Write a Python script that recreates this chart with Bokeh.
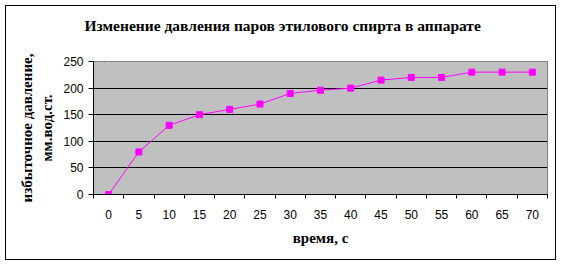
from bokeh.plotting import figure
from bokeh.models import FixedTicker, Range1d, Title, LinearAxis
from bokeh.embed import file_html
from bokeh.resources import INLINE

times = [0, 5, 10, 15, 20, 25, 30, 35, 40, 45, 50, 55, 60, 65, 70]
pressure = [0, 80, 130, 150, 160, 170, 190, 196, 200, 215, 220, 220, 230, 230, 230]
y_ticks = [0, 50, 100, 150, 200, 250]
title_text = "Изменение давления паров этилового спирта в аппарате"
x_label = "время, с"
y_label = "избыточное давление,\nмм.вод.ст."

step = 5
p = figure(width=551, height=255, output_backend="svg", toolbar_location=None,
           x_range=Range1d(times[0] - step / 2, times[-1] + step / 2),
           y_range=Range1d(0, 250),
           min_border_left=87, min_border_right=10, min_border_top=55, min_border_bottom=67)
p.margin = (5, 5, 5, 5)
p.styles = {"border": "1px solid black"}
p.background_fill_color = "#C0C0C0"
p.border_fill_color = "white"
p.outline_line_color = "#808080"
p.outline_line_width = 1

# axes
p.xaxis.ticker = FixedTicker(ticks=times, minor_ticks=[t - step / 2 for t in times] + [times[-1] + step / 2])
p.xaxis.major_tick_out = 0
p.xaxis.major_tick_in = 0
p.xaxis.minor_tick_out = 4
p.xaxis.minor_tick_in = 0
p.xaxis.minor_tick_line_color = "black"
p.xaxis.axis_line_color = "black"
p.xaxis.major_label_standoff = 11
p.yaxis.ticker = FixedTicker(ticks=y_ticks)
p.yaxis.major_tick_out = 5
p.yaxis.major_tick_in = 0
p.yaxis.minor_tick_line_color = None
p.yaxis.axis_line_color = "black"
p.yaxis.major_label_standoff = 5
for ax in (p.xaxis, p.yaxis):
    ax.major_label_text_font = "Liberation Sans"
    ax.major_label_text_font_size = "12px"
    ax.major_label_text_color = "black"
    ax.major_tick_line_color = "black"
    ax.axis_label_text_font = "Liberation Serif"
    ax.axis_label_text_font_style = "bold"
    ax.axis_label_text_font_size = "15px"
    ax.axis_label_text_color = "black"

p.xaxis.axis_label = x_label
p.xaxis.axis_label_standoff = 8
p.yaxis.axis_label = y_label
p.yaxis.axis_label_standoff = 5
p.yaxis.axis_label_text_line_height = 1.3

p.xgrid.grid_line_color = None
p.ygrid.grid_line_color = "black"
p.ygrid.grid_line_width = 1

p.line(times, pressure, line_color="#FF00FF", line_width=1)
p.scatter(times, pressure, marker="square", size=6, fill_color="#FF00FF", line_color="#FF00FF")

# invisible spacer (white tick on white border) between the frame and the title
spacer = LinearAxis(ticker=FixedTicker(ticks=[times[0]]), axis_line_color=None,
                    major_tick_line_color="white", minor_tick_line_color=None,
                    major_tick_out=23, major_tick_in=0, minor_tick_out=0, minor_tick_in=0,
                    major_label_standoff=0, major_label_text_font_size="0px",
                    major_label_overrides={times[0]: ""})
p.add_layout(spacer, "above")
p.add_layout(Title(text=title_text, align="left", offset=-9, text_font="Liberation Serif",
                   text_font_style="bold", text_font_size="15.5px", text_color="black",
                   standoff=10), "above")

open("out.html", "w").write(file_html(p, INLINE))
